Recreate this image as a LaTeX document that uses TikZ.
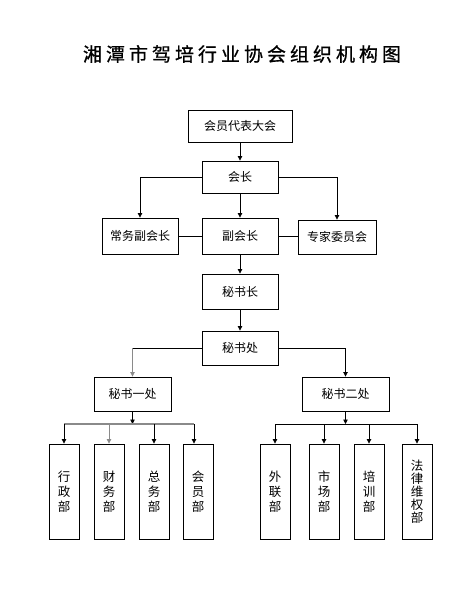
\documentclass[tikz,border=0pt]{standalone}
\usepackage{fontspec}
\setmainfont{Noto Sans CJK SC}
\newfontfamily\titlefont[FakeBold=0.8]{Noto Sans CJK SC}
\usepackage{tikz}
\usetikzlibrary{arrows.meta,positioning}
\definecolor{linec}{HTML}{000000}
\definecolor{greyc}{HTML}{8A8A8A}
\tikzset{
  ln/.style={line width=0.8pt,linec},
  ar/.style={-{Triangle[length=4.5pt,width=4.5pt]},line width=0.8pt,linec},
  org/.style={draw,line width=0.9pt,minimum width=76pt,minimum height=34pt,inner sep=2pt,font=\fontsize{12}{14}\selectfont},
  dept/.style={draw,line width=0.9pt,minimum width=30pt,minimum height=95pt,inner sep=1pt,align=center,font=\fontsize{12.5}{15}\selectfont}
}
\newcommand{\tk}{\kern4pt}

\begin{document}
\begin{tikzpicture}[x=1pt,y=-1pt]
\useasboundingbox (0,0) rectangle (462,613);
\node[font=\titlefont\fontsize{19}{22}\selectfont] (title) at (242,54) {湘\tk 潭\tk 市\tk 驾\tk 培\tk 行\tk 业\tk 协\tk 会\tk 组\tk 织\tk 机\tk 构\tk 图};
% upper levels
\node[org,minimum width=104pt,minimum height=32pt] (dbdh) at (240,126) {会员代表大会};
\node[org,minimum height=32pt] (hz) at (240,177) {会长};
\node[org,minimum height=36pt] (cwfh) at (140,236) {常务副会长};
\node[org,minimum height=36pt] (fhz) at (240,236) {副会长};
\node[org,minimum width=78pt] (zjwy) at (337,237) {专家委员会};
\node[org,minimum height=35pt] (msz) at (240,291.5) {秘书长};
\node[org] (msc) at (240,348) {秘书处};
\node[org,minimum width=77pt] (ms1) at (132.5,394) {秘书一处};
\node[org,minimum width=87pt] (ms2) at (345.5,394) {秘书二处};
% departments
\foreach \x/\t [count=\i] in {64/行\\政\\部,109/财\\务\\部,154/总\\务\\部,198/会\\员\\部}
  \node[dept] (a\i) at (\x,491.5) {\t};
\foreach \x/\t [count=\i] in {275/外\\联\\部,324/市\\场\\部,369/培\\训\\部}
  \node[dept] (b\i) at (\x,491.5) {\t};
\node[dept,font=\fontsize{12.5}{13}\selectfont] (b4) at (417,491.5) {法\\律\\维\\权\\部};
\coordinate (busa) at (0,424);
% connectors
\draw[ar] (dbdh.south) -- (hz.north);
\draw[ar] (hz.south) -- (fhz.north);
\draw[ar] (hz.west) -| (cwfh.north);
\draw[ar] (hz.east) -| (zjwy.north);
\draw[ln] (cwfh.east) -- (fhz.west);
\draw[ln] (fhz.east) -- (fhz.east -| zjwy.west);
\draw[ar] (fhz.south) -- (msz.north);
\draw[ar] (msz.south) -- (msc.north);
\draw[ln] (msc.west) -- (msc.west -| ms1.north);
\draw[ar,greyc] (msc.west -| ms1.north) -- (ms1.north);
\draw[ar] (msc.east) -| (ms2.north);
\draw[ar] (ms1.south) -- (ms1.south |- busa);
\draw[ar] (ms2.south) -- (ms2.south |- busa);
\draw[ln,greyc,line width=1.1pt] (a1.north |- busa) -- ([xshift=-4pt]a4.north |- busa);
\draw[ln] (b1.north |- busa) -- (b4.north |- busa);
\draw[ar] (a1.north |- busa) -- (a1.north);
\draw[ar,greyc] (a2.north |- busa) -- (a2.north);
\draw[ar] (a3.north |- busa) -- (a3.north);
\draw[ar] ([xshift=-4pt]a4.north |- busa) -- ([xshift=-4pt]a4.north);
\foreach \i in {1,...,4}
  \draw[ar] (b\i.north |- busa) -- (b\i.north);
\end{tikzpicture}
\end{document}
